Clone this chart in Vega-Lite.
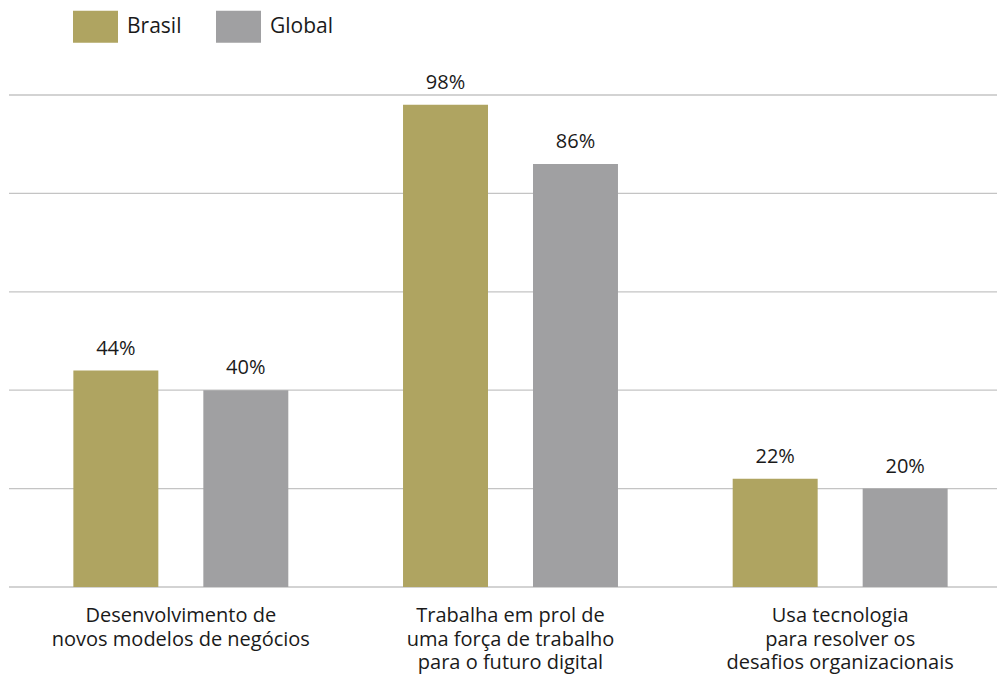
{
  "$schema": "https://vega.github.io/schema/vega-lite/v6.json",
  "width": 988,
  "height": 492,
  "autosize": {"type": "none"},
  "padding": {"left": 9, "top": 95, "right": 0, "bottom": 91},
  "background": "white",
  "config": {
    "view": {"stroke": null},
    "font": "Open Sans",
    "text": {"font": "Open Sans"}
  },
  "datasets": {
    "grade": [{"nivel": 0}, {"nivel": 20}, {"nivel": 40}, {"nivel": 60}, {"nivel": 80}, {"nivel": 100}],
    "valores": [
      {"categoria": "Desenvolvimento de|novos modelos de negócios", "ordem": 1, "serie": "Brasil", "valor": 44},
      {"categoria": "Desenvolvimento de|novos modelos de negócios", "ordem": 1, "serie": "Global", "valor": 40},
      {"categoria": "Trabalha em prol de|uma força de trabalho|para o futuro digital", "ordem": 2, "serie": "Brasil", "valor": 98},
      {"categoria": "Trabalha em prol de|uma força de trabalho|para o futuro digital", "ordem": 2, "serie": "Global", "valor": 86},
      {"categoria": "Usa tecnologia|para resolver os|desafios organizacionais", "ordem": 3, "serie": "Brasil", "valor": 22},
      {"categoria": "Usa tecnologia|para resolver os|desafios organizacionais", "ordem": 3, "serie": "Global", "valor": 20}
    ]
  },
  "layer": [
    {
      "data": {"name": "grade"},
      "mark": {"type": "rule", "color": "#c4c4c4", "strokeWidth": 1.3},
      "encoding": {
        "y": {"field": "nivel", "type": "quantitative", "scale": {"domain": [0, 100], "nice": false}, "axis": null}
      }
    },
    {
      "data": {"name": "valores"},
      "transform": [
        {"calculate": "datum.valor + '%'", "as": "rotulo"}
      ],
      "encoding": {
        "x": {
          "field": "categoria",
          "type": "nominal",
          "sort": {"field": "ordem"},
          "scale": {"range": [7, 996], "paddingInner": 0, "paddingOuter": 0},
          "axis": {
            "title": null,
            "domain": false,
            "ticks": false,
            "grid": false,
            "labelAngle": 0,
            "labelLimit": 0,
            "labelExpr": "split(datum.label, '|')",
            "labelFont": "Open Sans",
            "labelFontSize": 20,
            "labelColor": "#1a1a1a",
            "labelLineHeight": 23.5,
            "labelPadding": 18.5,
            "labelBaseline": "top"
          }
        },
        "xOffset": {
          "field": "serie",
          "type": "nominal",
          "scale": {"paddingInner": 0.3462, "paddingOuter": 0.4413}
        },
        "y": {
          "field": "valor",
          "type": "quantitative",
          "scale": {"domain": [0, 100], "nice": false},
          "axis": null
        }
      },
      "layer": [
        {
          "mark": {"type": "bar"},
          "encoding": {
            "color": {
              "field": "serie",
              "type": "nominal",
              "scale": {"domain": ["Brasil", "Global"], "range": ["#AFA461", "#A0A0A2"]},
              "legend": {
                "title": null,
                "orient": "none",
                "direction": "horizontal",
                "legendX": 64,
                "legendY": -91,
                "padding": 0,
                "symbolType": "M-1,-0.711H1V0.711H-1Z",
                "symbolSize": 2025,
                "symbolStrokeWidth": 0,
                "symbolOpacity": 1,
                "labelFont": "Open Sans",
                "labelFontSize": 21,
                "labelColor": "#1a1a1a",
                "labelOffset": 9,
                "columnPadding": 34
              }
            }
          }
        },
        {
          "mark": {"type": "text", "baseline": "alphabetic", "dy": -16, "fontSize": 20, "font": "Open Sans", "color": "#1a1a1a"},
          "encoding": {
            "text": {"field": "rotulo", "type": "nominal"},
            "detail": {"field": "serie"}
          }
        }
      ]
    }
  ]
}
